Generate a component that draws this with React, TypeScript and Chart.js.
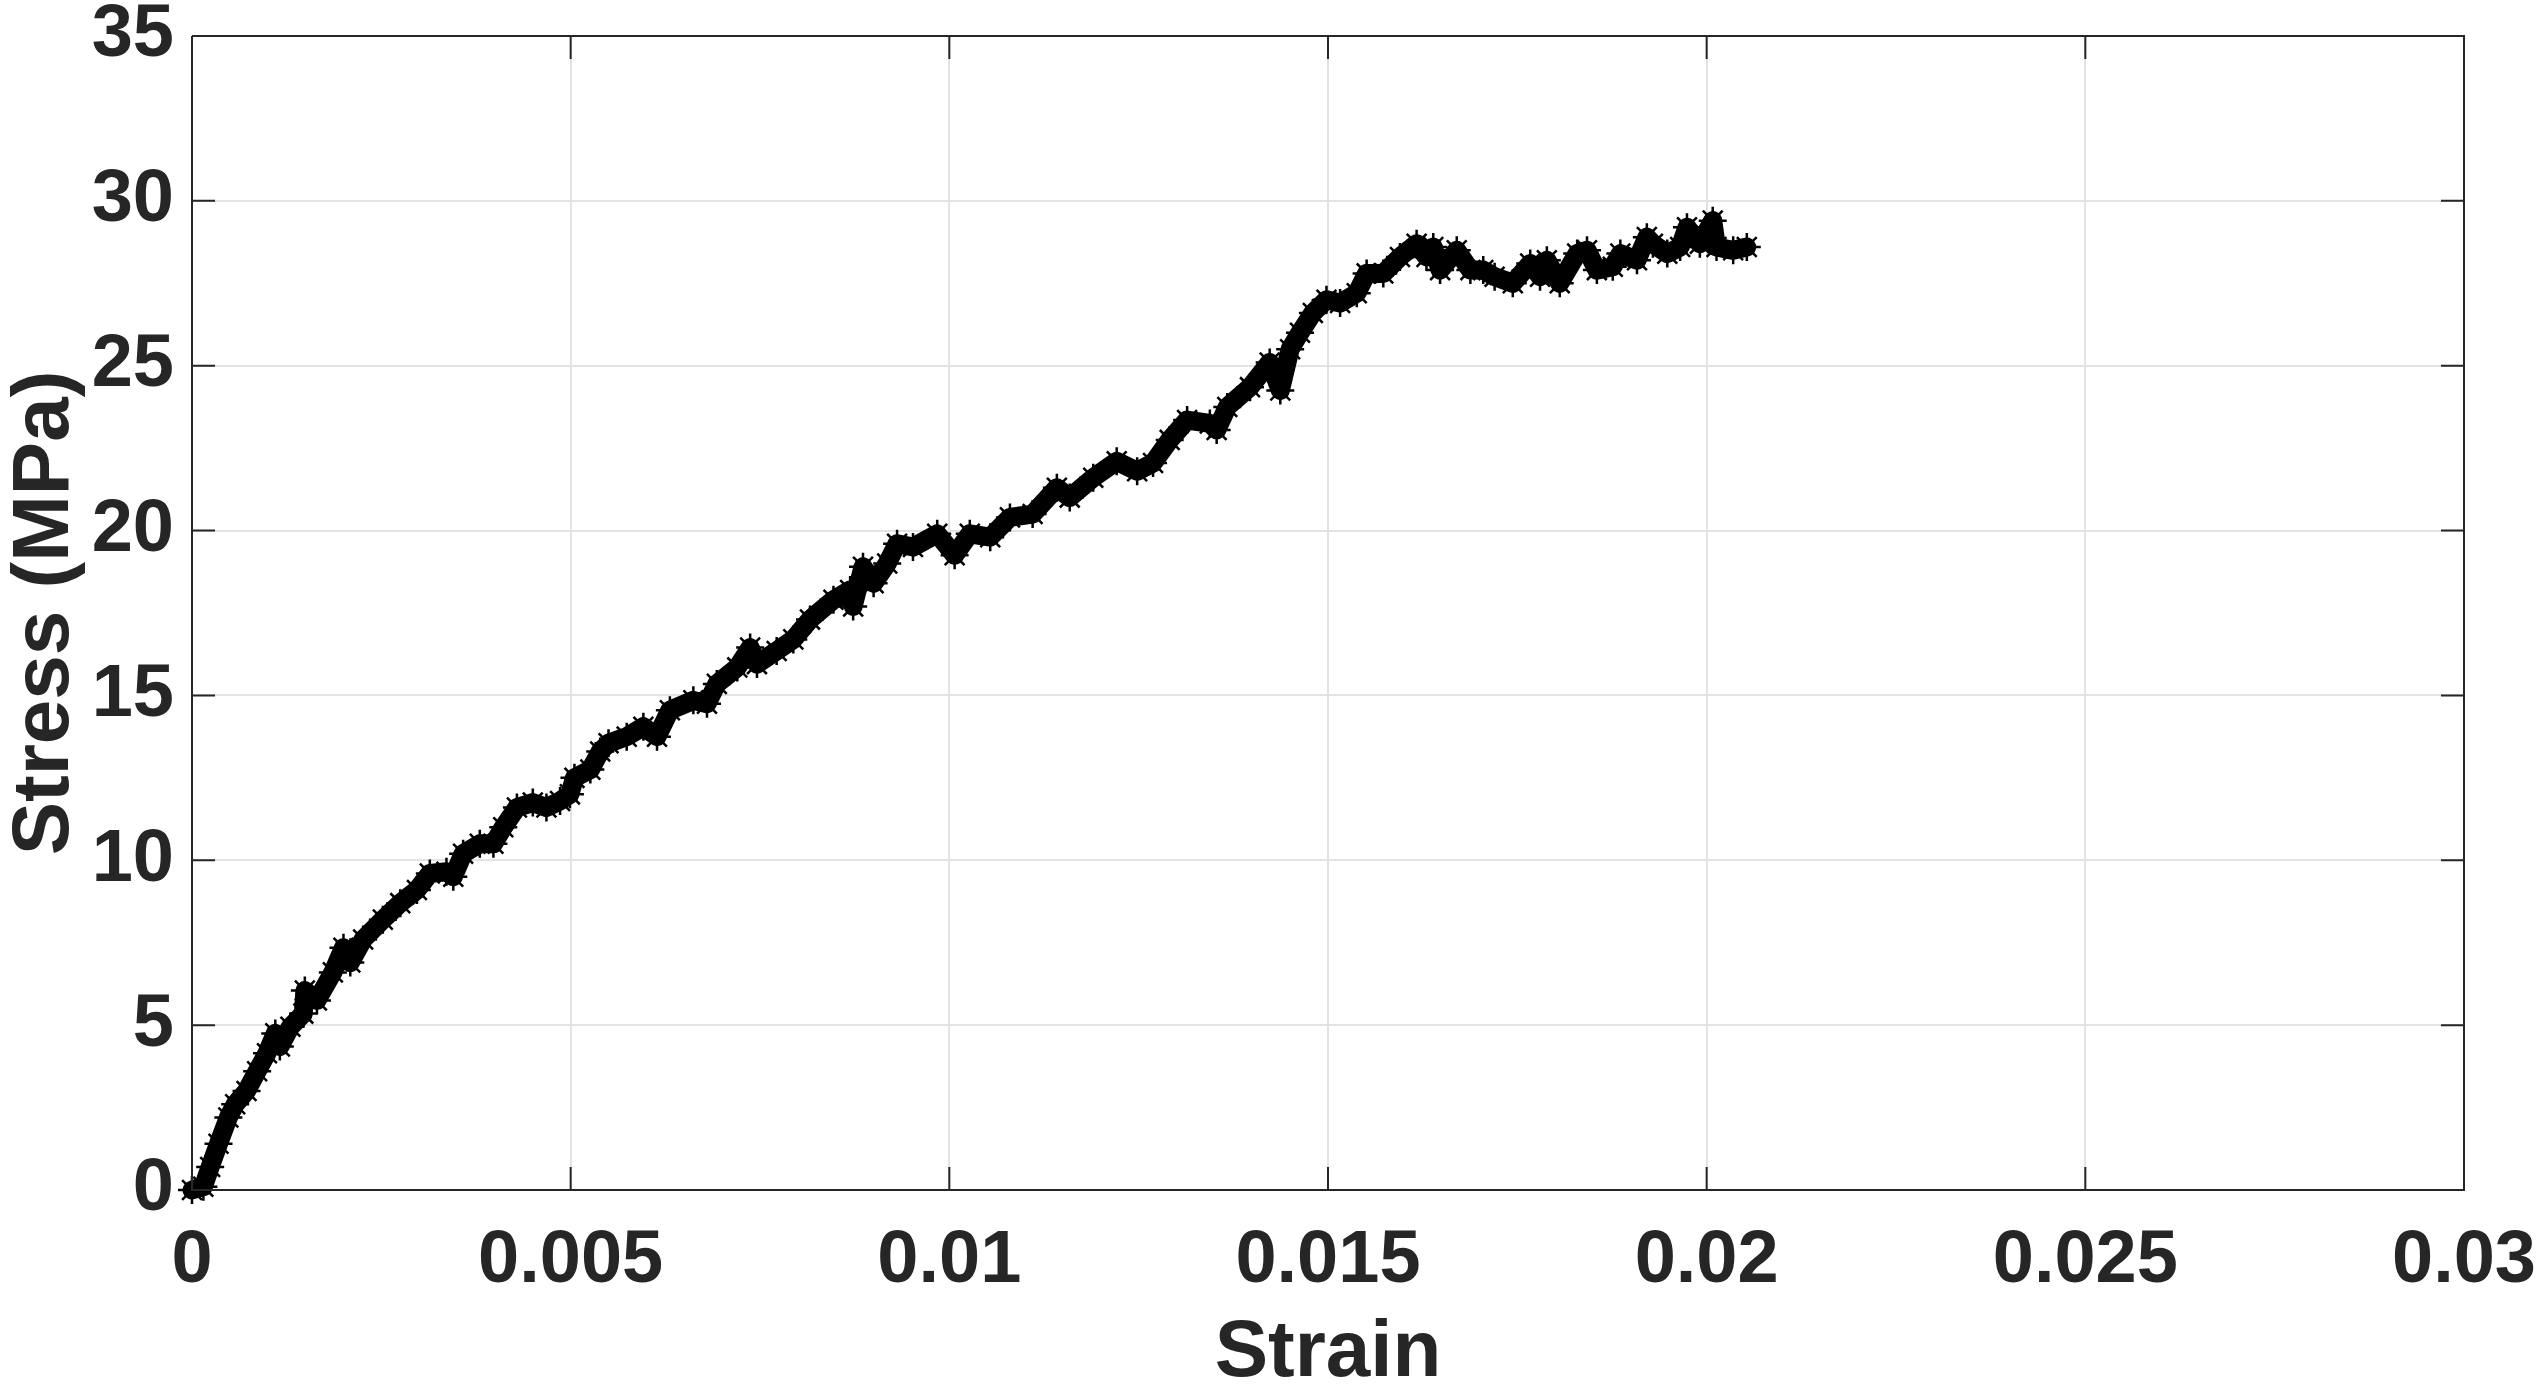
import React, { useEffect, useRef } from "react";
import { Chart, registerables } from "chart.js";

Chart.register(...registerables);

const strain: number[] = [
  0, 0.00015, 0.00024, 0.00035, 0.00048, 0.00057, 0.00072, 0.00086, 0.00099, 0.0011,
  0.00116, 0.0013, 0.00147, 0.00149, 0.00165, 0.00186, 0.002, 0.00209, 0.00226, 0.00252,
  0.00275, 0.00297, 0.00314, 0.00336, 0.00345, 0.00358, 0.0038, 0.00398, 0.00411, 0.00429,
  0.0045, 0.00468, 0.00486, 0.00499, 0.00505, 0.00526, 0.00539, 0.0055, 0.00574, 0.00596,
  0.00614, 0.00631, 0.00662, 0.0068, 0.00693, 0.0072, 0.00737, 0.00746, 0.00772, 0.00794,
  0.00816, 0.00847, 0.00869, 0.00873, 0.00886, 0.009, 0.00918, 0.00931, 0.00952, 0.00984,
  0.01007, 0.01027, 0.01054, 0.0108, 0.0111, 0.01142, 0.01159, 0.0119, 0.01221, 0.01248,
  0.01269, 0.01291, 0.01314, 0.01344, 0.01353, 0.01367, 0.01397, 0.01423, 0.01437, 0.0145,
  0.01463, 0.0148, 0.01498, 0.01516, 0.01538, 0.01551, 0.01573, 0.01595, 0.01617, 0.0163,
  0.01639, 0.01648, 0.0167, 0.01688, 0.01705, 0.0172, 0.01744, 0.01767, 0.0178, 0.01789,
  0.01806, 0.01829, 0.01842, 0.01855, 0.01876, 0.01886, 0.01908, 0.01921, 0.01929, 0.01948,
  0.01965, 0.01974, 0.01991, 0.02008, 0.02013, 0.02035, 0.02053,
];

const stress: number[] = [
  0, 0.1, 0.7, 1.4, 2.2, 2.6, 3.0, 3.6, 4.15, 4.75,
  4.35, 4.95, 5.35, 6.05, 5.75, 6.6, 7.35, 6.9, 7.6, 8.2,
  8.7, 9.1, 9.6, 9.65, 9.5, 10.2, 10.5, 10.5, 11.0, 11.6,
  11.75, 11.6, 11.8, 12.0, 12.5, 12.75, 13.3, 13.55, 13.75, 14.05,
  13.75, 14.55, 14.85, 14.75, 15.35, 15.85, 16.45, 15.95, 16.35, 16.7,
  17.3, 17.9, 18.2, 17.7, 18.9, 18.4, 19.0, 19.6, 19.5, 19.9,
  19.25, 19.9, 19.8, 20.4, 20.5, 21.3, 21.0, 21.6, 22.1, 21.8,
  22.05, 22.75, 23.35, 23.25, 23.05, 23.75, 24.35, 25.1, 24.25, 25.5,
  26.0, 26.6, 27.0, 26.9, 27.2, 27.8, 27.8, 28.3, 28.7, 28.3,
  28.6, 27.9, 28.5, 27.9, 27.9, 27.7, 27.5, 28.1, 27.7, 28.2,
  27.5, 28.4, 28.5, 27.9, 28.0, 28.4, 28.2, 28.9, 28.7, 28.4,
  28.6, 29.2, 28.7, 29.4, 28.6, 28.5, 28.6,
];

const xTicks: number[] = [0, 0.005, 0.01, 0.015, 0.02, 0.025, 0.03];
const xTickLabels: string[] = ["0", "0.005", "0.01", "0.015", "0.02", "0.025", "0.03"];
const yTicks: number[] = [0, 5, 10, 15, 20, 25, 30, 35];

const xTitle = "Strain";
const yTitle = "Stress (MPa)";

const INK = "#262626";
const FONT = "'Liberation Sans Narrow', 'Liberation Sans', Arial, sans-serif";

const boxPlugin = {
  id: "boxAndTicks",
  afterDraw(chart: any) {
    const { ctx, chartArea, scales } = chart;
    const { left, right, top, bottom } = chartArea;
    const tl = 23;
    ctx.save();
    ctx.strokeStyle = INK;
    ctx.lineWidth = 2;
    ctx.beginPath();
    ctx.moveTo(left, top);
    ctx.lineTo(right, top);
    ctx.lineTo(right, bottom);
    ctx.lineTo(left, bottom);
    ctx.lineTo(left, top);
    ctx.stroke();
    ctx.beginPath();
    for (const v of xTicks) {
      const px = scales.x.getPixelForValue(v);
      ctx.moveTo(px, bottom);
      ctx.lineTo(px, bottom - tl);
      ctx.moveTo(px, top);
      ctx.lineTo(px, top + tl);
    }
    for (const v of yTicks) {
      const py = scales.y.getPixelForValue(v);
      ctx.moveTo(left, py);
      ctx.lineTo(left + tl, py);
      ctx.moveTo(right, py);
      ctx.lineTo(right - tl, py);
    }
    ctx.stroke();
    ctx.restore();
  },
};

const zeroPad = (scale: any) => {
  scale.paddingTop = 0;
  scale.paddingBottom = 0;
  scale.paddingLeft = 0;
  scale.paddingRight = 0;
};

export default function App() {
  const ref = useRef<HTMLCanvasElement | null>(null);

  useEffect(() => {
    if (!ref.current) return;
    const points = strain.map((s, i) => ({ x: s, y: stress[i] }));
    const chart = new Chart(ref.current, {
      type: "scatter",
      data: {
        datasets: [
          {
            data: points,
            showLine: true,
            borderColor: "#000000",
            borderWidth: 19,
            borderJoinStyle: "round",
            borderCapStyle: "round",
            pointStyle: "star",
            pointRadius: 14,
            pointBorderWidth: 2.5,
            pointBorderColor: "#000000",
            pointBackgroundColor: "#000000",
            clip: false,
          } as any,
        ],
      },
      options: {
        animation: false,
        responsive: false,
        devicePixelRatio: 1,
        events: [],
        layout: { padding: { top: 36, right: 78, left: 0, bottom: 0 } },
        plugins: { legend: { display: false }, tooltip: { enabled: false } },
        scales: {
          x: {
            type: "linear",
            min: 0,
            max: 0.03,
            afterBuildTicks: (scale: any) => {
              scale.ticks = xTicks.map((v) => ({ value: v }));
            },
            afterFit: (scale: any) => {
              scale.height = 202;
              zeroPad(scale);
            },
            ticks: {
              color: INK,
              font: { family: FONT, size: 74, weight: "bold", lineHeight: 1.2 },
              padding: 27,
              maxRotation: 0,
              autoSkip: false,
              callback: (v: any) => {
                const i = xTicks.indexOf(Number(v));
                return i >= 0 ? xTickLabels[i] : "";
              },
            },
            grid: { color: "#e3e3e3", lineWidth: 2, drawTicks: false },
            border: { display: false },
            title: {
              display: true,
              text: xTitle,
              color: INK,
              font: { family: FONT, size: 80, weight: "bold", lineHeight: 0.95 },
              padding: 0,
            },
          },
          y: {
            type: "linear",
            min: 0,
            max: 35,
            afterBuildTicks: (scale: any) => {
              scale.ticks = yTicks.map((v) => ({ value: v }));
            },
            afterFit: (scale: any) => {
              scale.width = 192;
              zeroPad(scale);
            },
            ticks: {
              color: INK,
              font: { family: FONT, size: 74, weight: "bold", lineHeight: 1.2 },
              padding: 18,
              autoSkip: false,
              callback: (v: any) => String(v),
            },
            grid: { color: "#e3e3e3", lineWidth: 2, drawTicks: false },
            border: { display: false },
            title: {
              display: true,
              text: yTitle,
              color: INK,
              font: { family: FONT, size: 80, weight: "bold", lineHeight: 1.05 },
              padding: { top: 4, bottom: 0 },
            },
          },
        },
      },
      plugins: [boxPlugin],
    } as any);
    return () => chart.destroy();
  }, []);

  return (
    <div style={{ position: "absolute", left: 0, top: 0, width: 2542, height: 1392, background: "#ffffff" }}>
      <canvas ref={ref} width={2542} height={1392} style={{ display: "block", width: 2542, height: 1392 }} />
    </div>
  );
}
